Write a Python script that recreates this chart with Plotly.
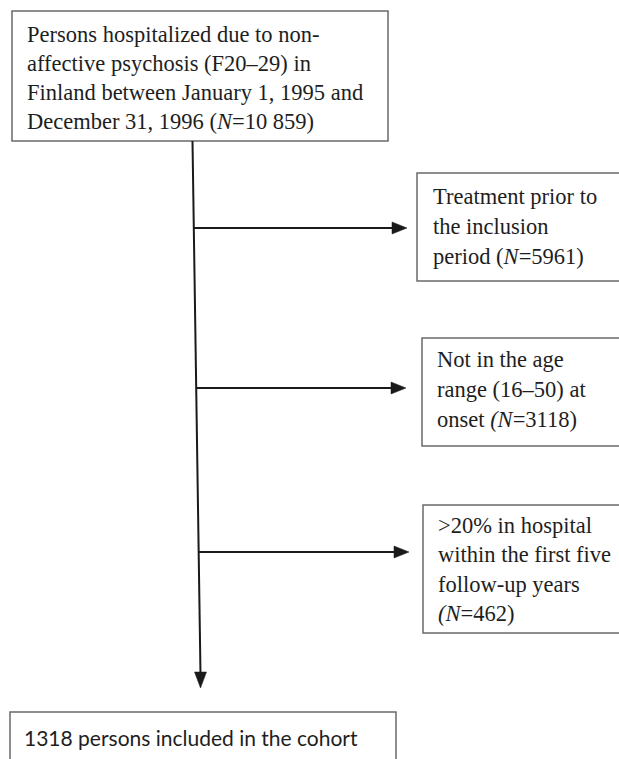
import plotly.graph_objects as go

# ---- content ----
start_lines = [
    "Persons hospitalized due to non-",
    "affective psychosis (F20–29) in",
    "Finland between January 1, 1995 and",
    "December 31, 1996 (<i>N</i>=10 859)",
]
excl_1 = ["Treatment prior to", "the inclusion", "period (<i>N</i>=5961)"]
excl_2 = ["Not in the age", "range (16–50) at", "onset <i>(N</i>=3118)"]
excl_3 = [">20% in hospital", "within the first five", "follow-up years", "<i>(N</i>=462)"]
final_text = "1318 persons included in the cohort"

W, H = 619, 759
fig = go.Figure()

serif = dict(family="Liberation Serif, Times New Roman, serif", size=22.5, color="#1e1e1e")
sans = dict(family="Lato, Carlito, Liberation Sans, sans-serif", size=21, color="#1e1e1e")
box_col = "#6a6a6a"
line_col = "#1a1a1a"

shapes = []
annots = []

def box(x0, y0, x1, y1, color=box_col, w=1.5):
    shapes.append(dict(type="rect", xref="x", yref="y", x0=x0, y0=y0, x1=x1, y1=y1,
                       line=dict(color=color, width=w), fillcolor="rgba(0,0,0,0)", layer="above"))

def lines_text(lines, x, y_first, step, font):
    for i, t in enumerate(lines):
        annots.append(dict(x=x, y=y_first + i * step, xref="x", yref="y", text=t,
                           showarrow=False, xanchor="left", yanchor="middle", font=font))

# top box
box(12, 11, 388, 141)
lines_text(start_lines, 25, 34, 29.0, serif)

# main vertical line (slightly slanted)
vx0, vy0, vx1, vy1 = 192.5, 141, 200.5, 674
shapes.append(dict(type="line", x0=vx0, y0=vy0, x1=vx1, y1=vy1, line=dict(color=line_col, width=2)))
shapes.append(dict(type="path", path=f"M {vx1-6} 672 L {vx1+6} 672 L {vx1} 688 Z",
                   fillcolor=line_col, line=dict(color=line_col, width=0.5)))

def vx_at(y):
    return vx0 + (vx1 - vx0) * (y - vy0) / (vy1 - vy0)

def harrow(y, tip):
    shapes.append(dict(type="line", x0=vx_at(y), y0=y, x1=tip - 10, y1=y, line=dict(color=line_col, width=2)))
    shapes.append(dict(type="path", path=f"M {tip-15} {y-6} L {tip-15} {y+6} L {tip} {y} Z",
                       fillcolor=line_col, line=dict(color=line_col, width=0.5)))

# exclusion 1
harrow(228, 407)
box(417, 173, 640, 281)
lines_text(excl_1, 431, 196, 30, serif)

# exclusion 2
harrow(388, 406)
box(422, 338, 640, 446)
lines_text(excl_2, 435, 359, 30, serif)

# exclusion 3
harrow(552, 409)
box(423, 505, 640, 633)
lines_text(excl_3, 436, 525, 29.5, serif)

# final box
box(10, 712, 396, 790)
annots.append(dict(x=22, y=737, xref="x", yref="y", text=final_text, showarrow=False,
                   xanchor="left", yanchor="middle", font=sans))

fig.update_layout(
    width=W, height=H, margin=dict(l=0, r=0, t=0, b=0),
    paper_bgcolor="white", plot_bgcolor="white",
    xaxis=dict(range=[0, W], visible=False, fixedrange=True),
    yaxis=dict(range=[H, 0], visible=False, fixedrange=True),
    shapes=shapes, annotations=annots, showlegend=False,
)
fig.write_html("out.html", config={"displayModeBar": False, "staticPlot": True},
               post_script="document.body.style.margin='0px';document.body.style.overflow='hidden';")
